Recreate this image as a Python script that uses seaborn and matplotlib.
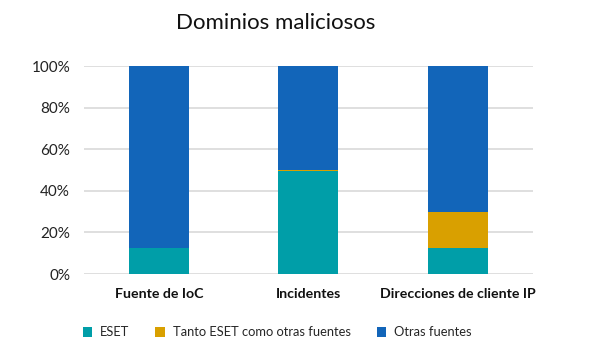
import matplotlib
matplotlib.use("Agg")
import matplotlib.pyplot as plt
from matplotlib.patches import Patch
import seaborn as sns
import numpy as np

categories = ["Fuente de IoC", "Incidentes", "Direcciones de cliente IP"]
eset = [12.5, 49.5, 12.5]
ambos = [0.0, 0.5, 17.5]
otras = [87.5, 50.0, 70.0]
series_names = ["ESET", "Tanto ESET como otras fuentes", "Otras fuentes"]
yticks = [0, 20, 40, 60, 80, 100]

colors = ["#009EA8", "#D9A000", "#1265B9"]

sns.set_theme(style="white")
plt.rcParams["font.family"] = ["Lato", "DejaVu Sans"]

fig = plt.figure(figsize=(6, 3.5), dpi=100)
ax = fig.add_axes([0.14, 0.217, 0.748, 0.594])

# stacked bars: draw cumulative totals from the top layer down
cum1 = np.array(eset)
cum2 = cum1 + np.array(ambos)
cum3 = cum2 + np.array(otras)
for vals, c in zip([cum3, cum2, cum1], [colors[2], colors[1], colors[0]]):
    sns.barplot(x=categories, y=vals, color=c, width=0.4, ax=ax,
                saturation=1, linewidth=0, zorder=3)

ax.set_xlim(-0.5, 2.5)
ax.set_ylim(0, 100)
ax.set_yticks(yticks)
ax.set_yticklabels([f"{t}%" for t in yticks], fontsize=11, color="#222222")
ax.tick_params(axis="x", labelsize=10.2, pad=10, length=0)
ax.tick_params(axis="y", length=0, pad=10)
for lab in ax.get_xticklabels():
    lab.set_fontweight("bold")
    lab.set_color("#111111")
ax.yaxis.grid(True, color="#D9D9D9", linewidth=1.2, zorder=0)
ax.set_axisbelow(True)
for s in ax.spines.values():
    s.set_visible(False)

fig.text(0.46, 0.935, "Dominios maliciosos", ha="center", va="center",
         fontsize=16, color="#111111")

handles = [Patch(facecolor=c, edgecolor="none") for c in colors]
fig.legend(handles, series_names, loc="center", bbox_to_anchor=(0.462, 0.05),
           ncol=3, frameon=False, fontsize=9.3, handlelength=0.75,
           handleheight=0.75, handletextpad=0.6, columnspacing=2.0)

fig.savefig("out.png", dpi=100)
